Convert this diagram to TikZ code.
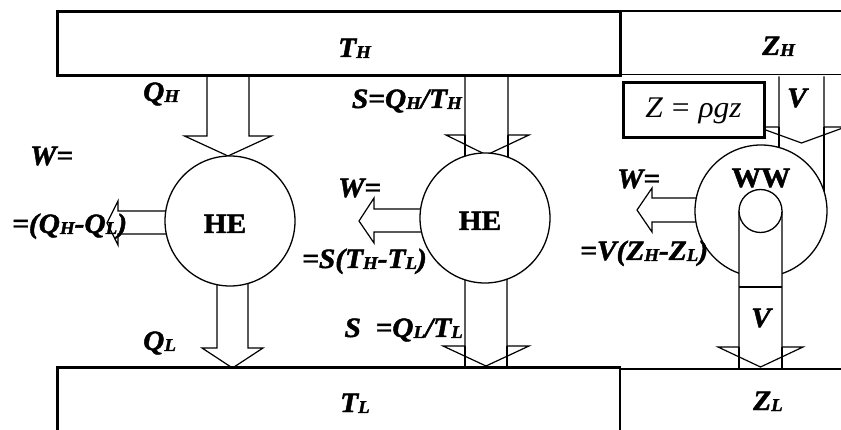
\documentclass[tikz,border=0pt]{standalone}
\usepackage{fontspec}
\setmainfont{Liberation Serif}[FakeStretch=1.05, BoldFeatures={FakeBold=1.6}, BoldItalicFeatures={FakeBold=1.6}]
\newcommand\sbs[1]{\raisebox{-1pt}{\fontsize{18}{18}\selectfont #1}}
\begin{document}
\begin{tikzpicture}[x=1pt,y=-1pt,
  lab/.style={font=\fontsize{28}{30}\selectfont\bfseries\itshape, inner sep=0pt, anchor=base west},
  ttl/.style={font=\fontsize{28}{30}\selectfont\bfseries, inner sep=0pt, anchor=base},
  thickbox/.style={line width=3pt},
  thinline/.style={line width=1.3pt},
  barrow/.style={draw, fill=white, line width=1.2pt, line join=miter},
  disc/.style={circle, draw, fill=white, line width=1.3pt, inner sep=0pt}]
\useasboundingbox (0,0) rectangle (841,430);
\clip (0,0) rectangle (841,430);

% ---------- block arrows (drawn first) ----------
% Q_H
\draw[barrow] (207,76.5) -- (207,136) -- (184.5,136) -- (228,156) -- (271.5,136) -- (249,136) -- (249,76.5);
% Q_L
\draw[barrow] (217,280) -- (217,348) -- (202,348) -- (232.5,368) -- (263,348) -- (248,348) -- (248,280);
% W (HE1)
\draw[barrow] (170,211) -- (118,211) -- (118,201) -- (107,223) -- (118,245) -- (118,234) -- (170,234);

% S top (HE2)
\draw[barrow] (465,76.5) -- (465,135) -- (446,135) -- (486.5,155) -- (529,135) -- (508,135) -- (508,76.5);
\draw[thinline] (465,135) -- (465,170) (508,135) -- (508,170);
% S bottom (HE2)
\draw[barrow] (465,270) -- (465,346) -- (443,346) -- (486,366) -- (529,346) -- (507,346) -- (507,270);
\draw[thinline] (465,346) -- (465,368) (507,346) -- (507,368);
% W (HE2)
\draw[barrow] (425,209) -- (374,209) -- (374,198) -- (359,221) -- (374,243) -- (374,232) -- (425,232);

% V top (WW)
\draw[barrow] (779,76.5) -- (779,127) -- (757.5,127) -- (801.5,143) -- (845.5,127) -- (824,127) -- (824,76.5);
\draw[thinline] (779,127) -- (779,165) (824,127) -- (824,205);
% W (WW)
\draw[barrow] (705,198) -- (652,198) -- (652,188) -- (637,210) -- (652,232) -- (652,222) -- (705,222);

% ---------- engines ----------
\node[disc, minimum size=130pt] (he1) at (230,221) {};
\node[disc, minimum size=130pt] (he2) at (485,218) {};
\node[disc, minimum size=132pt] (ww) at (761,211) {};
% belt of the water wheel
\draw[barrow] (739,211) -- (739,347) -- (718,347) -- (760.5,367) -- (803,347) -- (782,347) -- (782,211);
\draw[thinline] (739,287) -- (782,287);
\draw[thinline] (739,347) -- (739,369) (782,347) -- (782,369);
\node[disc, minimum size=43pt] (hub) at (760.5,211) {};

% ---------- reservoirs ----------
\draw[thinline] (620,11) -- (845,11);
\draw[thinline] (620,74.5) -- (845,74.5);
\draw[line width=2pt] (620,11) -- (620,75);
\draw[thickbox] (57.5,11.5) rectangle (620,75.5);

\draw[thinline] (620,369) -- (845,369);
\draw[line width=2pt] (620,368) -- (620,440);
\draw[thickbox] (57.5,440) -- (57.5,368) -- (621,368);

% ---------- labels ----------
\node[lab] (th) at (338,57) {T\sbs{H}};
\node[lab] (zh) at (762,55) {Z\sbs{H}};
\node[lab] (tl) at (340,412) {T\sbs{L}};
\node[lab] (zl) at (753,410) {Z\sbs{L}};

\node[lab] (qh) at (143,101) {Q\sbs{H}};
\node[lab] (ql) at (143,350) {Q\sbs{L}};
\node[lab] (w1) at (30,165) {W=};
\node[lab] (w1b) at (12,233) {=(Q\sbs{H}-Q\sbs{L})};
\node[ttl] (he1t) at (225,233) {HE};

\node[lab, anchor=base east] (s1) at (462,108) {S=Q\sbs{H}/T\sbs{H}};
\node[lab, anchor=base east] (s2) at (463,337) {S\ \ =Q\sbs{L}/T\sbs{L}};
\node[lab] (w2) at (338,197) {W=};
\node[lab] (w2b) at (302,268) {=S(T\sbs{H}-T\sbs{L})};
\node[ttl] (he2t) at (480,230) {HE};

\node[lab] (w3) at (617,188) {W=};
\node[lab] (w3b) at (580,260) {=V(Z\sbs{H}-Z\sbs{L})};
\node[ttl] (wwt) at (761,187) {WW};
\node[lab, anchor=base] (v1) at (797,107) {V};
\node[lab, anchor=base] (v2) at (761,327) {V};

% ---------- formula box ----------
\node[draw, line width=3pt, fill=white, minimum width=141pt, minimum height=55pt, inner sep=0pt,
      font=\fontsize{30}{33}\selectfont] (zbox) at (693.5,110.5)
      {\itshape Z\hspace{9pt}\upshape=\hspace{9pt}\itshape ρgz};
\end{tikzpicture}
\end{document}
